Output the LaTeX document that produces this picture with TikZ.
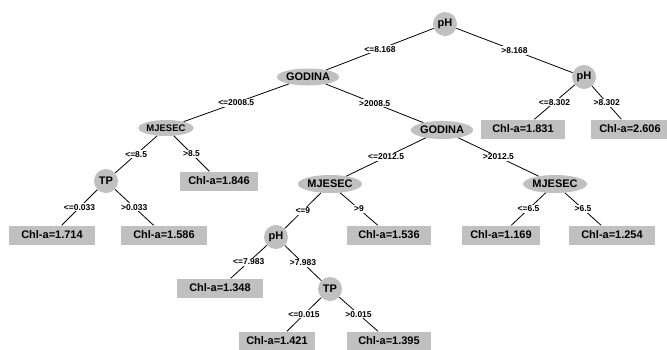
\documentclass[tikz,border=0pt]{standalone}
\usepackage{fontspec}
\setmainfont{Liberation Sans}
\usetikzlibrary{shapes.geometric}
\definecolor{splitgray}{RGB}{192,192,192}

\begin{document}
\begin{tikzpicture}[
    x=1pt,
    y=-1pt,
    every node/.style={font=\bfseries},
    split/.style={ellipse, fill=splitgray, inner sep=0pt, minimum width=59pt, minimum height=18pt, font=\bfseries\fontsize{11}{13}\selectfont},
    test/.style={circle, fill=splitgray, inner sep=0pt, minimum size=24pt, font=\bfseries\fontsize{11}{13}\selectfont},
    leaf/.style={rectangle, fill=splitgray, inner sep=0pt, minimum width=84pt, minimum height=19pt, font=\bfseries\fontsize{11}{13}\selectfont},
    cond/.style={fill=white, inner xsep=5pt, inner ysep=1pt, font=\bfseries\fontsize{8.5}{10}\selectfont},
    every edge/.style={draw, line width=0.8pt},
]
    \useasboundingbox (0,0) rectangle (667,349);

    % split nodes
    \node[test]  (ph1)  at (445,24)  {pH};
    \node[split, minimum width=57pt, minimum height=17pt] (god1) at (308,77)  {GODINA};
    \node[test]  (ph2)  at (584,77)  {pH};
    \node[split] (god2) at (442,130) {GODINA};
    \node[split, minimum width=50pt, minimum height=16pt, font=\bfseries\fontsize{9.5}{11}\selectfont] (mj1) at (166,128) {MJESEC};
    \node[test]  (tp1)  at (106,181) {TP};
    \node[split] (mj2)  at (330,184) {MJESEC};
    \node[split] (mj3)  at (555,184) {MJESEC};
    \node[test]  (ph3)  at (276,237) {pH};
    \node[test]  (tp2)  at (330,289) {TP};

    % leaves
    \node[leaf] (l1831) at (523,129) {Chl-a=1.831};
    \node[leaf, minimum width=78pt] (l2606) at (630,129) {Chl-a=2.606};
    \node[leaf, minimum width=78pt] (l1846) at (219,181) {Chl-a=1.846};
    \node[leaf, minimum width=86pt] (l1714) at (52,235)  {Chl-a=1.714};
    \node[leaf, minimum width=86pt] (l1586) at (164,235) {Chl-a=1.586};
    \node[leaf] (l1536) at (389,235) {Chl-a=1.536};
    \node[leaf, minimum width=78pt] (l1169) at (501,235) {Chl-a=1.169};
    \node[leaf, minimum width=86pt] (l1254) at (612,235) {Chl-a=1.254};
    \node[leaf, minimum width=86pt] (l1348) at (220,288) {Chl-a=1.348};
    \node[leaf, minimum width=76pt] (l1421) at (277,341) {Chl-a=1.421};
    \node[leaf] (l1395) at (389,341) {Chl-a=1.395};

    \path
        (ph1)  edge node[cond] {<=8.168}  (god1)
        (ph1)  edge node[cond] {>8.168}   (ph2)
        (ph2)  edge node[cond] {<=8.302}  (l1831)
        (ph2)  edge node[cond] {>8.302}   (l2606)
        (god1) edge node[cond] {<=2008.5} (mj1)
        (god1) edge node[cond] {>2008.5}  (god2)
        (mj1)  edge node[cond] {<=8.5}    (tp1)
        (mj1)  edge node[cond] {>8.5}     (l1846)
        (tp1)  edge node[cond] {<=0.033}  (l1714)
        (tp1)  edge node[cond] {>0.033}   (l1586)
        (god2) edge node[cond] {<=2012.5} (mj2)
        (god2) edge node[cond] {>2012.5}  (mj3)
        (mj2)  edge node[cond] {<=9}      (ph3)
        (mj2)  edge node[cond] {>9}       (l1536)
        (mj3)  edge node[cond] {<=6.5}    (l1169)
        (mj3)  edge node[cond] {>6.5}     (l1254)
        (ph3)  edge node[cond] {<=7.983}  (l1348)
        (ph3)  edge node[cond] {>7.983}   (tp2)
        (tp2)  edge node[cond] {<=0.015}  (l1421)
        (tp2)  edge node[cond] {>0.015}   (l1395)
    ;
\end{tikzpicture}
\end{document}
